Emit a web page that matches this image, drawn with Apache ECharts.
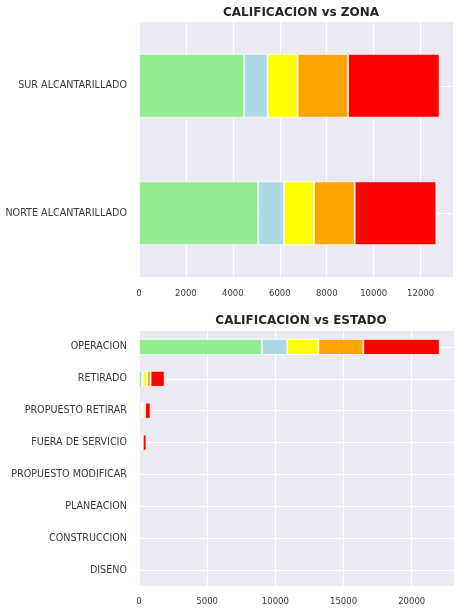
<!DOCTYPE html>
<html>
<head>
<meta charset="utf-8">
<script src="https://cdn.jsdelivr.net/npm/echarts@6/dist/echarts.min.js"></script>
<style>
html,body{margin:0;padding:0;background:#fff;}
#chart{width:461px;height:613px;}
</style>
</head>
<body>
<div id="chart"></div>
<script>
// ---- data ----
const zonaCategories = ['SUR ALCANTARILLADO', 'NORTE ALCANTARILLADO'];
const estadoCategories = ['OPERACION', 'RETIRADO', 'PROPUESTO RETIRAR', 'FUERA DE SERVICIO',
  'PROPUESTO MODIFICAR', 'PLANEACION', 'CONSTRUCCION', 'DISENO'];
const seriesNames = ['Verde', 'Azul', 'Amarillo', 'Naranja', 'Rojo'];
const seriesColors = ['#90EE90', '#ADD8E6', '#FFFF00', '#FFA500', '#FF0000'];

// values per calificacion, aligned with zonaCategories
const zonaVerde    = [4480, 5080];
const zonaAzul     = [1000, 1100];
const zonaAmarillo = [1280, 1280];
const zonaNaranja  = [2150, 1730];
const zonaRojo     = [3900, 3480];

// values per calificacion, aligned with estadoCategories
const estadoVerde    = [9010, 230, 150, 100, 15, 5, 3, 1];
const estadoAzul     = [1860, 90, 50, 40, 5, 2, 1, 0];
const estadoAmarillo = [2290, 270, 100, 60, 5, 2, 1, 1];
const estadoNaranja  = [3290, 260, 150, 80, 5, 1, 0, 0];
const estadoRojo     = [5600, 1030, 400, 270, 10, 3, 2, 1];

const zonaTicks = [0, 2000, 4000, 6000, 8000, 10000, 12000];
const estadoTicks = [0, 5000, 10000, 15000, 20000];

const zonaData = [zonaVerde, zonaAzul, zonaAmarillo, zonaNaranja, zonaRojo];
const estadoData = [estadoVerde, estadoAzul, estadoAmarillo, estadoNaranja, estadoRojo];

const txt = '#3a3a3a';
const font = 'DejaVu Sans';

function makeSeries(dataSets, axisIndex, stack) {
  return dataSets.map((d, i) => ({
    name: seriesNames[i],
    type: 'bar',
    stack: stack,
    xAxisIndex: axisIndex,
    yAxisIndex: axisIndex,
    barWidth: '50%',
    data: d,
    itemStyle: { color: seriesColors[i], borderColor: '#ffffff', borderWidth: 0.8 },
    emphasis: { disabled: true },
    silent: true
  }));
}

const chart = echarts.init(document.getElementById('chart'), null, { renderer: 'canvas' });
chart.setOption({
  animation: false,
  backgroundColor: '#ffffff',
  textStyle: { fontFamily: font },
  title: [
    { text: 'CALIFICACION vs ZONA', left: 296, top: 2, textAlign: 'center',
      textStyle: { fontSize: 12, fontWeight: 'bold', color: '#262626', fontFamily: font } },
    { text: 'CALIFICACION vs ESTADO', left: 296, top: 310, textAlign: 'center',
      textStyle: { fontSize: 12, fontWeight: 'bold', color: '#262626', fontFamily: font } }
  ],
  grid: [
    { left: 139, right: 8, top: 22, bottom: 336, show: true, backgroundColor: '#EAEAF2', borderWidth: 0 },
    { left: 139, right: 7, top: 331, bottom: 27, show: true, backgroundColor: '#EAEAF2', borderWidth: 0 }
  ],
  xAxis: [
    { type: 'value', gridIndex: 0, min: 0, max: 13380, interval: 2000,
      axisLine: { show: false }, axisTick: { show: false },
      splitLine: { show: true, lineStyle: { color: '#ffffff', width: 1 } },
      axisLabel: { color: txt, fontSize: 8.5, margin: 12, showMaxLabel: false, fontFamily: font,
        formatter: v => (zonaTicks.indexOf(v) >= 0 ? String(v) : '') } },
    { type: 'value', gridIndex: 1, min: 0, max: 23100, interval: 5000,
      axisLine: { show: false }, axisTick: { show: false },
      splitLine: { show: true, lineStyle: { color: '#ffffff', width: 1 } },
      axisLabel: { color: txt, fontSize: 8.5, margin: 11, showMaxLabel: false, fontFamily: font,
        formatter: v => (estadoTicks.indexOf(v) >= 0 ? String(v) : '') } }
  ],
  yAxis: [
    { type: 'category', gridIndex: 0, data: zonaCategories, inverse: true,
      axisLine: { show: false }, axisTick: { show: false },
      splitLine: { show: true, alignWithLabel: true, interval: 0, lineStyle: { color: '#ffffff', width: 1 } },
      axisLabel: { color: txt, fontSize: 9.6, margin: 12, fontFamily: font } },
    { type: 'category', gridIndex: 1, data: estadoCategories, inverse: true,
      axisLine: { show: false }, axisTick: { show: false },
      splitLine: { show: true, alignWithLabel: true, interval: 0, lineStyle: { color: '#ffffff', width: 1 } },
      axisLabel: { color: txt, fontSize: 9.6, margin: 12, interval: 0, fontFamily: font } }
  ],
  series: [].concat(makeSeries(zonaData, 0, 'zona'), makeSeries(estadoData, 1, 'estado'))
});
</script>
</body>
</html>
